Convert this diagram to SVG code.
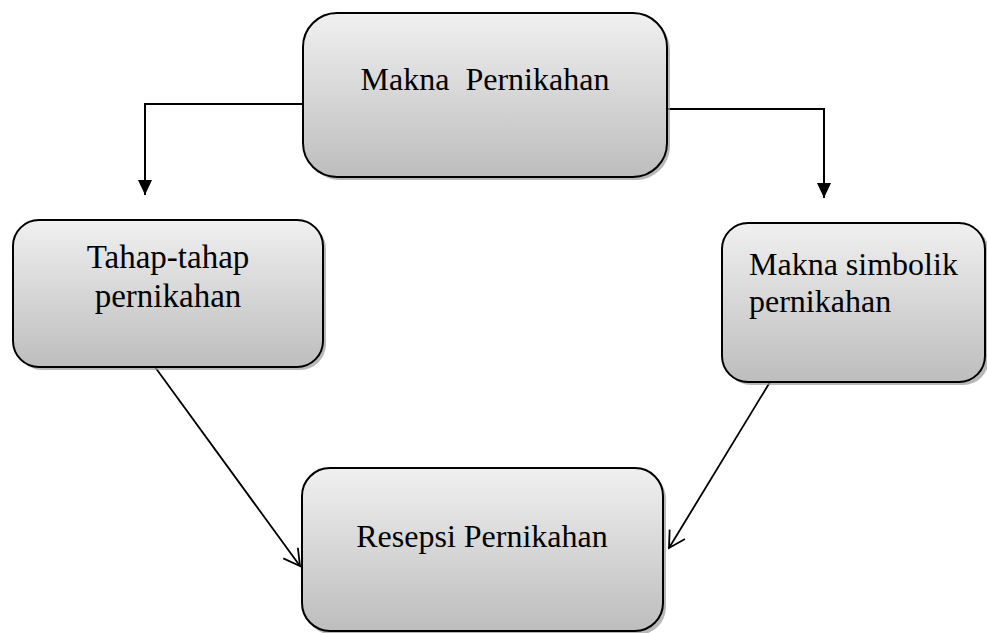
<svg xmlns="http://www.w3.org/2000/svg" width="987" height="633" viewBox="0 0 987 633">
<style>
.box{fill:url(#g);stroke:#000;stroke-width:2}
.sh{fill:#9a9a9a;opacity:0.7}
.t{font-family:"Liberation Serif","Times New Roman",serif;font-size:32px;fill:#000}
.c{fill:none;stroke:#000;stroke-width:2}
.d{fill:none;stroke:#000;stroke-width:1.8}
</style>
<defs>
<linearGradient id="g" x1="0" y1="0" x2="0" y2="1">
<stop offset="0" stop-color="#f0f0f0"/>
<stop offset="1" stop-color="#bdbdbd"/>
</linearGradient>
<marker id="fa" markerWidth="16" markerHeight="16" refX="15" refY="7" orient="auto" markerUnits="userSpaceOnUse">
<path d="M0,0 L15,7 L0,14 Z" fill="#000"/>
</marker>
<marker id="oa" markerWidth="24" markerHeight="24" refX="19" refY="11" orient="auto" markerUnits="userSpaceOnUse">
<path d="M3,2 L19,11 L3,20" fill="none" stroke="#000" stroke-width="1.8"/>
</marker>
</defs>
<g id="connectors">
<path class="c" d="M303,104 H145 V195" marker-end="url(#fa)"/>
<path class="c" d="M667,109 H824 V198" marker-end="url(#fa)"/>
<path class="d" d="M155,367 L300,566" marker-end="url(#oa)"/>
<path class="d" d="M770,382 L669,548" marker-end="url(#oa)"/>
</g>
<g id="makna-pernikahan">
<rect class="sh" x="306" y="16" width="364" height="164" rx="34"/>
<rect class="box" x="303" y="13" width="364" height="164" rx="34"/>
<text class="t" x="485" y="90" text-anchor="middle" xml:space="preserve">Makna  Pernikahan</text>
</g>
<g id="tahap-tahap">
<rect class="sh" x="16" y="223" width="310" height="147" rx="26"/>
<rect class="box" x="13" y="220" width="310" height="147" rx="26"/>
<text class="t" x="168" y="268" text-anchor="middle" style="font-size:33px">Tahap-tahap</text>
<text class="t" x="168" y="307" text-anchor="middle" style="font-size:33px">pernikahan</text>
</g>
<g id="makna-simbolik">
<rect class="sh" x="725" y="226" width="264" height="159" rx="26"/>
<rect class="box" x="722" y="223" width="263" height="159" rx="26"/>
<text class="t" x="749" y="275">Makna simbolik</text>
<text class="t" x="749" y="312">pernikahan</text>
</g>
<g id="resepsi-pernikahan">
<rect class="sh" x="305" y="471" width="361" height="164" rx="28"/>
<rect class="box" x="302" y="468" width="361" height="163" rx="28"/>
<text class="t" x="482" y="547" text-anchor="middle">Resepsi Pernikahan</text>
</g>
</svg>
